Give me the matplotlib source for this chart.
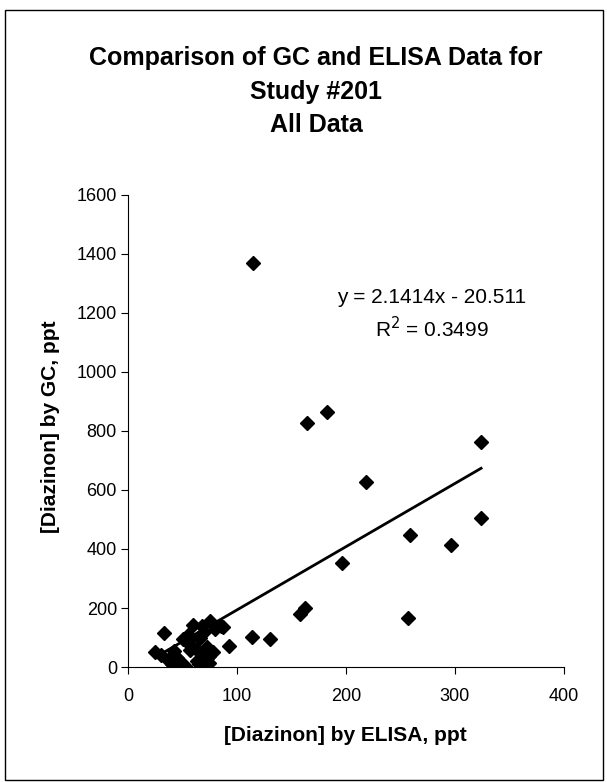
import numpy as np
import matplotlib.pyplot as plt
from matplotlib.patches import Rectangle

plt.rcParams["font.family"] = ["Liberation Sans", "DejaVu Sans"]

# ELISA (x) vs GC (y), ppt
elisa = [25, 30, 33, 37, 40, 42, 45, 48, 50, 52, 55, 57, 58, 60, 62, 63, 65, 66,
         68, 70, 70, 72, 72, 74, 75, 78, 80, 85, 87, 46, 55, 66, 74, 93, 114, 130,
         158, 162, 196, 115, 164, 183, 218, 257, 259, 296, 324, 324]
gc = [50, 40, 116, 25, 10, 55, 30, 15, 95, 5, 110, 57, 100, 141, 60, 20, 10, 97,
      140, 45, 120, 30, 67, 15, 156, 50, 130, 140, 136, 28, 80, 28, 37, 70, 102, 95,
      180, 200, 352, 1370, 826, 864, 626, 166, 447, 413, 763, 505]

slope = 2.1414
intercept = -20.511
eq_text = "y = 2.1414x - 20.511"
r2_text = "R$^2$ = 0.3499"

fig = plt.figure(figsize = (6.07, 7.82), dpi = 100)
ax = fig.add_axes([0.211, 0.147, 0.718, 0.604])

ax.plot(elisa, gc, linestyle = "none", marker = "D", markersize = 7,
        color = "black", zorder = 3)

xl = np.array([min(elisa), max(elisa)])
ax.plot(xl, slope * xl + intercept, color = "black", linewidth = 2, zorder = 2)

ax.set_xlim(0, 400)
ax.set_ylim(0, 1600)
ax.set_xticks([0, 100, 200, 300, 400])
ax.set_yticks(np.arange(0, 1601, 200))
ax.spines["top"].set_visible(False)
ax.spines["right"].set_visible(False)
ax.tick_params(direction = "out", length = 5, labelsize = 13)
ax.tick_params(axis = "x", pad = 10)
ax.tick_params(axis = "y", pad = 3)
ax.set_xlabel("[Diazinon] by ELISA, ppt", fontsize = 15, fontweight = "bold")
ax.set_ylabel("[Diazinon] by GC, ppt", fontsize = 15, fontweight = "bold")
ax.xaxis.set_label_coords(0.498, -0.125)
ax.yaxis.set_label_coords(-0.156, 0.508)

ax.text(279, 1252, eq_text, fontsize = 15, ha = "center", va = "center")
ax.text(279, 1145, r2_text, fontsize = 15, ha = "center", va = "center")

title_lines = ["Comparison of GC and ELISA Data for", "Study #201", "All Data"]
for line, base in zip(title_lines, [65, 99, 132]):
    fig.text(0.521, 1 - base / 782, line, fontsize = 18, fontweight = "bold",
             ha = "center", va = "baseline")

fig.patches.append(Rectangle((5 / 607, 2 / 782), 598 / 607, 770 / 782, fill = False,
                             edgecolor = "black", linewidth = 1, transform = fig.transFigure))

plt.savefig("out.png", dpi = 100)
